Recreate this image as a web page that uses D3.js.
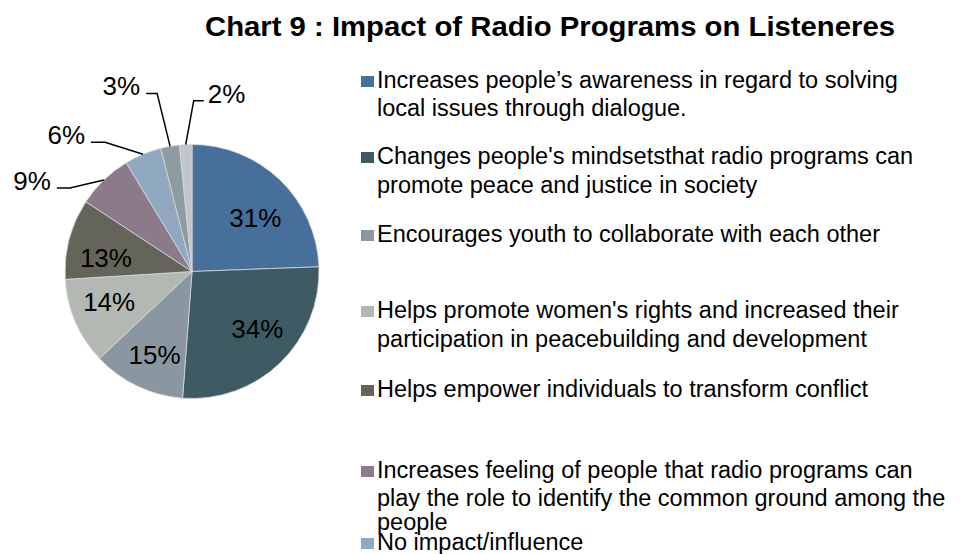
<!DOCTYPE html>
<html>
<head>
<meta charset="utf-8">
<script src="https://cdn.jsdelivr.net/npm/d3@7"></script>
<style>
  html, body { margin: 0; padding: 0; background: #ffffff; }
  svg { display: block; }
  text { font-family: "Liberation Sans", Arial, sans-serif; fill: #000; }
</style>
</head>
<body>
<svg id="chart" width="961" height="554"></svg>
<script>
// Share of respondents per reported impact (labels are shown as given)
const values = [31, 34, 15, 14, 13, 9, 6, 3, 2];
const valueLabels = ["31%", "34%", "15%", "14%", "13%", "9%", "6%", "3%", "2%"];

// Legend entries, already broken into lines as they wrap in the legend box
const legendLines = [
  ["Increases people\u2019s awareness in regard to solving", "local issues through dialogue."],
  ["Changes people's mindsetsthat radio programs can", "promote peace and justice in society"],
  ["Encourages youth to collaborate with each other"],
  ["Helps promote women's rights and increased their", "participation in peacebuilding and development"],
  ["Helps empower individuals to transform conflict"],
  ["Increases feeling of people that radio programs can", "play the role to identify the common ground among the", "people"],
  ["No impact/influence"]
];

const title = "Chart 9 : Impact of Radio Programs on Listeneres";

const colors = ["#46709a", "#3e5a63", "#8a96a0", "#b3b8b2", "#646458",
                "#8b7b8a", "#91a8c1", "#8e9c9f", "#c0c6cc"];

const svg = d3.select("#chart");

// Title
svg.append("text")
  .attr("x", 205).attr("y", 36)
  .attr("font-size", 28).attr("font-weight", "bold")
  .attr("textLength", 690).attr("lengthAdjust", "spacingAndGlyphs")
  .text(title);

// Pie
const cx = 192, cy = 271.5, R = 127;
const pie = d3.pie().sort(null).value(d => d);
const arcs = pie(values);
const arc = d3.arc().innerRadius(0).outerRadius(R);

const g = svg.append("g").attr("transform", `translate(${cx},${cy})`);
g.selectAll("path.slice")
  .data(arcs)
  .join("path")
  .attr("class", "slice")
  .attr("d", arc)
  .attr("fill", (d, i) => colors[i])
  .attr("stroke", "#d4d8dc")
  .attr("stroke-width", 0.8);

// Labels inside the larger slices, with small best-fit nudges
const inner = d3.arc().innerRadius(87).outerRadius(87);
const insideNudge = [[3, 9], [5, -6], [0, 5], [-3, -4], [-2, 8]];
g.selectAll("text.inside")
  .data(arcs.slice(0, insideNudge.length))
  .join("text")
  .attr("class", "inside")
  .attr("x", (d, i) => inner.centroid(d)[0] + insideNudge[i][0])
  .attr("y", (d, i) => inner.centroid(d)[1] + insideNudge[i][1])
  .attr("text-anchor", "middle")
  .attr("dy", "0.36em")
  .attr("font-size", 26)
  .text((d, i) => valueLabels[i]);

// Outside labels with leader lines: elbow offset from the slice edge,
// then a short horizontal run toward the text
const outsideLayout = [
  { i: 5, elbow: [-34, 8],   run: -13, anchor: "end" },
  { i: 6, elbow: [-38, -12], run: -14, anchor: "end" },
  { i: 7, elbow: [-13, -53], run: -11, anchor: "end" },
  { i: 8, elbow: [8, -44],   run: 10,  anchor: "start" }
];
outsideLayout.forEach(o => {
  const d = arcs[o.i];
  const a = (d.startAngle + d.endAngle) / 2;
  const p0 = d3.pointRadial(a, R);
  const p1 = [p0[0] + o.elbow[0], p0[1] + o.elbow[1]];
  const p2 = [p1[0] + o.run, p1[1]];
  g.append("polyline")
    .attr("points", [p0, p1, p2].map(p => p.join(",")).join(" "))
    .attr("fill", "none")
    .attr("stroke", "#000")
    .attr("stroke-width", 1.5);
  g.append("text")
    .attr("x", p2[0] + (o.anchor === "end" ? -6 : 4))
    .attr("y", p2[1] + 2)
    .attr("text-anchor", o.anchor)
    .attr("font-size", 26)
    .text(valueLabels[o.i]);
});

// Legend
const legendBaselines = [
  [88, 116], [164, 193], [242], [318, 347], [397], [478, 506, 530], [550]
];
const lg = svg.append("g");
legendLines.forEach((lines, i) => {
  const b = legendBaselines[i];
  lg.append("rect")
    .attr("x", 361).attr("y", b[0] - 12)
    .attr("width", 13).attr("height", 11)
    .attr("fill", colors[i]);
  lines.forEach((t, j) => {
    lg.append("text")
      .attr("x", 377).attr("y", b[j])
      .attr("font-size", 23.5)
      .text(t);
  });
});
</script>
</body>
</html>
